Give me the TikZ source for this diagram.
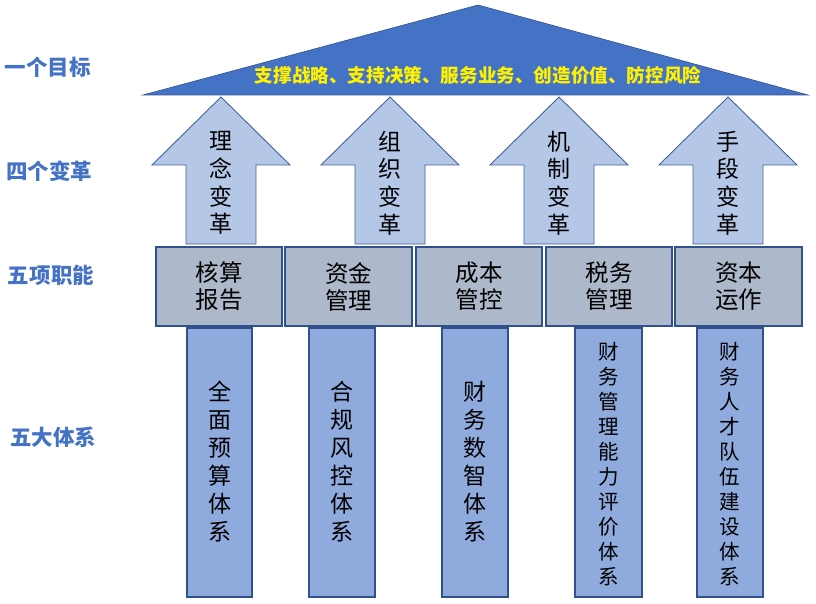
\documentclass[tikz,border=0pt]{standalone}
\usepackage{fontspec}
\newfontfamily\cjk{Noto Sans CJK SC}
\definecolor{roofblue}{HTML}{4472C4}
\definecolor{roofedge}{HTML}{2F528F}
\definecolor{arrowfill}{HTML}{B4C7E7}
\definecolor{arrowedge}{HTML}{41619C}
\definecolor{boxfill}{HTML}{ADB9CA}
\definecolor{barfill}{HTML}{8FAADC}
\definecolor{labelblue}{HTML}{4472C4}
\begin{document}
\begin{tikzpicture}[x=1pt,y=-1pt,
  roof/.style={fill=roofblue,draw=roofedge,line width=0.6pt},
  arrowshape/.style={fill=arrowfill,draw=arrowedge,line width=0.9pt,line join=miter},
  funcbox/.style={fill=boxfill,draw=roofedge,line width=1.3pt},
  sysbar/.style={fill=barfill,draw=roofedge,line width=1.2pt},
  goaltext/.style={font=\cjk\bfseries\fontsize{18.6}{20}\selectfont,text=yellow,inner sep=0pt},
  sidelabel/.style={font=\cjk\bfseries\fontsize{21.5}{24}\selectfont,text=labelblue,inner sep=0pt},
  arrowtext/.style={font=\cjk\fontsize{23}{27.7}\selectfont,align=center,inner sep=0pt},
  boxtext/.style={font=\cjk\fontsize{23.5}{27}\selectfont,align=center,inner sep=0pt},
  bartext/.style={font=\cjk\fontsize{23}{28}\selectfont,align=center,inner sep=0pt},
  bartextsmall/.style={font=\cjk\fontsize{20.5}{25}\selectfont,align=center,inner sep=0pt}
]
\useasboundingbox (0,0) rectangle (816,604);

% roof
\fill[roof] (143,95) -- (478,5) -- (808,95) -- cycle;
\node[goaltext] (goal) at (478,75) {支撑战略、支持决策、服务业务、创造价值、防控风险};

% side labels
\node[sidelabel] (l1) at (48,67) {一个目标};
\node[sidelabel] (l2) at (49,171) {四个变革};
\node[sidelabel] (l3) at (51,275) {五项职能};
\node[sidelabel] (l4) at (53,437) {五大体系};

% arrows
\foreach \c in {221,390,559,728}{
  \draw[arrowshape] (\c,97) -- (\c+69,165) -- (\c+35,165) -- (\c+35,244)
     -- (\c-35,244) -- (\c-35,165) -- (\c-69,165) -- cycle;
}
\node[arrowtext] (a1) at (221,183) {理\\念\\变\\革};
\node[arrowtext] (a2) at (390,183) {组\\织\\变\\革};
\node[arrowtext] (a3) at (559,183) {机\\制\\变\\革};
\node[arrowtext] (a4) at (728,183) {手\\段\\变\\革};

% function boxes
\draw[funcbox] (156,247) rectangle (282,326);
\draw[funcbox] (285,247) rectangle (412,326);
\draw[funcbox] (416,247) rectangle (542,326);
\draw[funcbox] (546,247) rectangle (672,326);
\draw[funcbox] (675,247) rectangle (802,326);
\node[boxtext] (f1) at (219,286.5) {核算\\报告};
\node[boxtext] (f2) at (348.5,286.5) {资金\\管理};
\node[boxtext] (f3) at (479,286.5) {成本\\管控};
\node[boxtext] (f4) at (609,286.5) {税务\\管理};
\node[boxtext] (f5) at (738.5,286.5) {资本\\运作};

% system bars
\draw[sysbar] (187,328) rectangle (252,597);
\draw[sysbar] (309,328) rectangle (375,597);
\draw[sysbar] (442,328) rectangle (508,597);
\draw[sysbar] (575,328) rectangle (642,597);
\draw[sysbar] (697,328) rectangle (763,597);
\node[bartext] (s1) at (219.5,462) {全\\面\\预\\算\\体\\系};
\node[bartext] (s2) at (342,462) {合\\规\\风\\控\\体\\系};
\node[bartext] (s3) at (475,462) {财\\务\\数\\智\\体\\系};
\node[bartextsmall] (s4) at (608.5,464.5) {财\\务\\管\\理\\能\\力\\评\\价\\体\\系};
\node[bartextsmall] (s5) at (730,464.5) {财\\务\\人\\才\\队\\伍\\建\\设\\体\\系};
\end{tikzpicture}
\end{document}
